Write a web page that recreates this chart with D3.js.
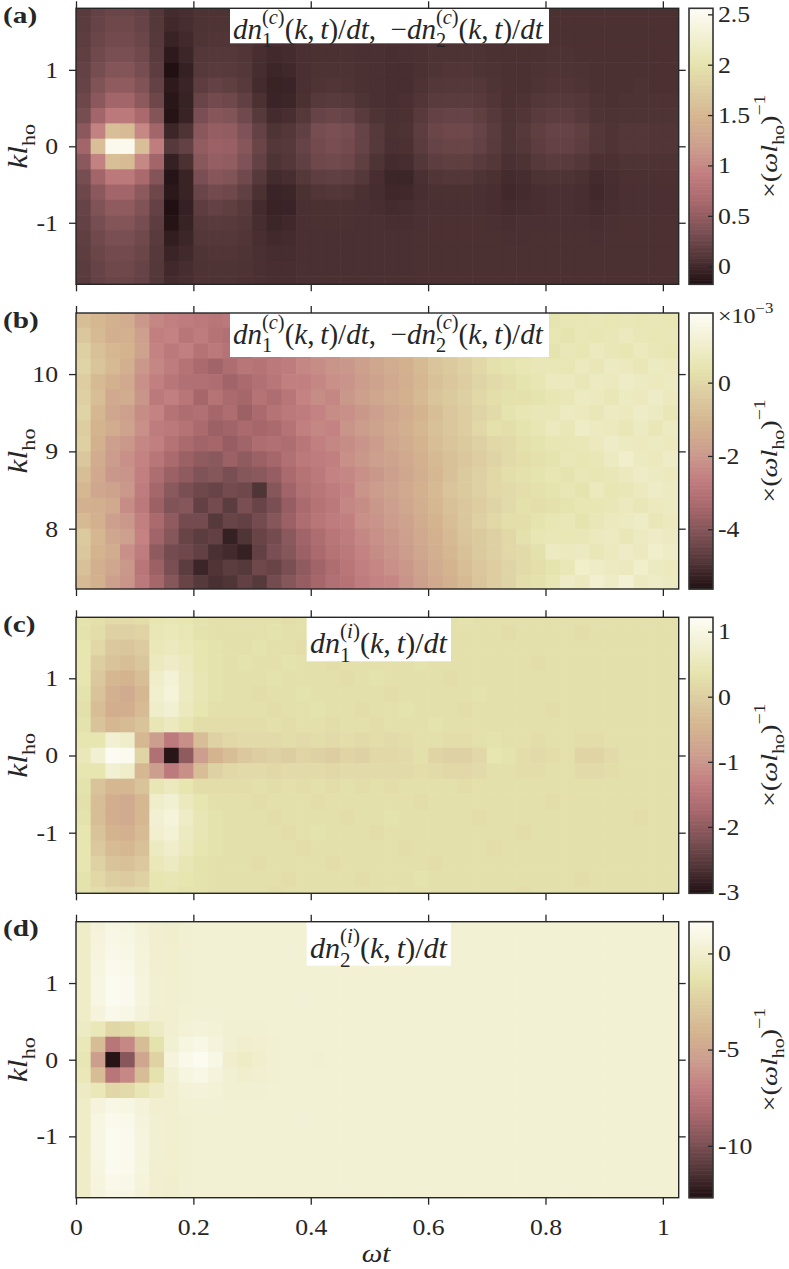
<!DOCTYPE html>
<html>
<head>
<meta charset="utf-8">
<script src="https://cdn.jsdelivr.net/npm/d3@7/dist/d3.min.js"></script>
<style>
  body { margin: 0; background: #fff; }
  text { font-family: "Liberation Serif", serif; fill: #262626; }
</style>
</head>
<body>
<div id="chart"></div>
<script>
"use strict";

// ---- data ----
// time axis: cells of width tStep starting at omega t = 0
var tStep = 0.025;
// k rows (cell centres), top to bottom
var kRowsSym = [1.8, 1.6, 1.4, 1.2, 1.0, 0.8, 0.6, 0.4, 0.2, 0, -0.2, -0.4, -0.6, -0.8, -1.0, -1.2, -1.4, -1.6, -1.8];
var kRowsB = [10.7, 10.5, 10.3, 10.1, 9.9, 9.7, 9.5, 9.3, 9.1, 8.9, 8.7, 8.5, 8.3, 8.1, 7.9, 7.7, 7.5, 7.3];
var kStep = 0.2;

// (a) dn1(c)/dt, one array per time column, values top to bottom
var gridA = [
  [0.14,0.15,0.16,0.18,0.2,0.22,0.26,0.32,0.45,0.6,0.45,0.32,0.26,0.22,0.2,0.18,0.16,0.15,0.14],
  [0.2,0.22,0.25,0.28,0.32,0.38,0.45,0.6,0.95,1.6,0.95,0.6,0.45,0.38,0.32,0.28,0.25,0.22,0.2],
  [0.24,0.27,0.3,0.34,0.4,0.48,0.6,0.85,1.6,2.5,1.6,0.85,0.6,0.48,0.4,0.34,0.3,0.27,0.24],
  [0.24,0.27,0.3,0.34,0.4,0.48,0.6,0.85,1.55,2.5,1.55,0.85,0.6,0.48,0.4,0.34,0.3,0.27,0.24],
  [0.2,0.22,0.25,0.28,0.32,0.38,0.46,0.65,1.0,1.6,1.0,0.65,0.46,0.38,0.32,0.28,0.25,0.22,0.2],
  [0.1,0.11,0.12,0.14,0.16,0.2,0.26,0.4,0.6,0.9,0.6,0.4,0.26,0.2,0.16,0.14,0.12,0.11,0.1],
  [0.02,0.0,-0.04,-0.1,-0.17,-0.1,-0.13,-0.15,-0.02,0.12,-0.06,-0.14,-0.12,-0.17,-0.15,-0.08,-0.03,0.0,0.02],
  [0.04,0.03,0.01,-0.02,-0.06,-0.03,-0.05,-0.04,0.08,0.2,0.06,-0.04,-0.04,-0.06,-0.05,-0.02,0.01,0.03,0.04],
  [0.07,0.07,0.08,0.1,0.12,0.16,0.24,0.34,0.44,0.5,0.44,0.34,0.24,0.16,0.12,0.1,0.08,0.07,0.07],
  [0.07,0.08,0.09,0.11,0.14,0.2,0.3,0.42,0.52,0.56,0.52,0.42,0.3,0.2,0.14,0.11,0.09,0.08,0.07],
  [0.07,0.08,0.09,0.11,0.13,0.18,0.27,0.39,0.5,0.54,0.5,0.39,0.27,0.18,0.13,0.11,0.09,0.08,0.07],
  [0.06,0.07,0.08,0.09,0.1,0.13,0.19,0.28,0.37,0.42,0.37,0.28,0.19,0.13,0.1,0.09,0.08,0.07,0.06],
  [0.05,0.05,0.05,0.04,0.03,0.02,0.06,0.12,0.2,0.24,0.2,0.12,0.06,0.02,0.03,0.04,0.05,0.05,0.05],
  [0.04,0.04,0.03,0.01,-0.02,-0.04,-0.03,0.02,0.08,0.1,0.08,0.02,-0.03,-0.04,-0.02,0.01,0.03,0.04,0.04],
  [0.04,0.04,0.03,0.02,0.0,-0.03,-0.02,0.04,0.1,0.12,0.1,0.04,-0.02,-0.03,0.0,0.02,0.03,0.04,0.04],
  [0.05,0.05,0.05,0.05,0.05,0.05,0.06,0.11,0.19,0.22,0.19,0.11,0.06,0.05,0.05,0.05,0.05,0.05,0.05],
  [0.05,0.05,0.06,0.06,0.07,0.08,0.12,0.22,0.32,0.3,0.27,0.17,0.09,0.06,0.06,0.05,0.05,0.05,0.05],
  [0.05,0.05,0.06,0.06,0.07,0.09,0.14,0.25,0.35,0.33,0.29,0.19,0.1,0.06,0.06,0.05,0.05,0.05,0.05],
  [0.05,0.05,0.06,0.06,0.07,0.08,0.12,0.22,0.32,0.3,0.26,0.17,0.09,0.06,0.06,0.05,0.05,0.05,0.05],
  [0.05,0.05,0.05,0.05,0.06,0.06,0.08,0.14,0.22,0.22,0.18,0.11,0.06,0.05,0.05,0.05,0.05,0.05,0.05],
  [0.05,0.05,0.05,0.05,0.05,0.05,0.05,0.08,0.12,0.12,0.08,0.04,0.03,0.04,0.05,0.05,0.05,0.05,0.05],
  [0.05,0.05,0.05,0.04,0.04,0.04,0.04,0.05,0.06,0.05,0.02,-0.02,-0.01,0.02,0.04,0.05,0.05,0.05,0.05],
  [0.05,0.05,0.05,0.05,0.04,0.04,0.05,0.06,0.07,0.06,0.03,-0.02,0.0,0.03,0.04,0.05,0.05,0.05,0.05],
  [0.06,0.06,0.06,0.06,0.06,0.07,0.09,0.13,0.16,0.15,0.1,0.05,0.04,0.05,0.05,0.06,0.06,0.06,0.06],
  [0.06,0.06,0.07,0.07,0.08,0.1,0.14,0.2,0.25,0.22,0.16,0.09,0.06,0.05,0.06,0.06,0.06,0.06,0.06],
  [0.06,0.06,0.07,0.07,0.09,0.11,0.15,0.22,0.27,0.24,0.18,0.1,0.06,0.05,0.06,0.06,0.06,0.06,0.06],
  [0.06,0.06,0.07,0.07,0.09,0.11,0.15,0.22,0.27,0.24,0.18,0.1,0.06,0.05,0.06,0.06,0.06,0.06,0.06],
  [0.06,0.06,0.06,0.07,0.08,0.1,0.13,0.18,0.22,0.2,0.14,0.08,0.05,0.05,0.06,0.06,0.06,0.06,0.06],
  [0.06,0.06,0.06,0.06,0.07,0.08,0.09,0.12,0.15,0.14,0.1,0.06,0.04,0.04,0.05,0.06,0.06,0.06,0.06],
  [0.06,0.06,0.06,0.06,0.06,0.06,0.06,0.07,0.08,0.08,0.05,0.02,0.0,0.02,0.04,0.05,0.06,0.06,0.06],
  [0.06,0.06,0.06,0.06,0.06,0.06,0.07,0.09,0.12,0.1,0.07,0.03,0.02,0.03,0.05,0.05,0.06,0.06,0.06],
  [0.06,0.06,0.06,0.06,0.07,0.08,0.1,0.14,0.18,0.16,0.12,0.07,0.04,0.04,0.05,0.06,0.06,0.06,0.06],
  [0.06,0.06,0.06,0.07,0.08,0.09,0.12,0.16,0.22,0.2,0.15,0.08,0.05,0.05,0.05,0.06,0.06,0.06,0.06],
  [0.06,0.06,0.06,0.07,0.08,0.09,0.12,0.16,0.22,0.2,0.14,0.08,0.05,0.05,0.05,0.06,0.06,0.06,0.06],
  [0.06,0.06,0.06,0.06,0.07,0.08,0.1,0.12,0.18,0.16,0.1,0.06,0.04,0.04,0.05,0.06,0.06,0.06,0.06],
  [0.06,0.06,0.06,0.06,0.06,0.06,0.07,0.08,0.1,0.1,0.06,0.02,0.0,0.02,0.04,0.05,0.06,0.06,0.06],
  [0.06,0.06,0.06,0.06,0.06,0.06,0.06,0.07,0.08,0.08,0.06,0.04,0.03,0.04,0.05,0.06,0.06,0.06,0.06],
  [0.06,0.06,0.06,0.06,0.06,0.06,0.07,0.08,0.1,0.1,0.08,0.06,0.05,0.05,0.06,0.06,0.06,0.06,0.06],
  [0.06,0.06,0.06,0.06,0.06,0.07,0.07,0.08,0.1,0.1,0.08,0.06,0.05,0.05,0.06,0.06,0.06,0.06,0.06],
  [0.06,0.06,0.06,0.06,0.06,0.06,0.07,0.08,0.09,0.09,0.07,0.06,0.05,0.05,0.06,0.06,0.06,0.06,0.06],
  [0.06,0.06,0.06,0.06,0.06,0.06,0.07,0.08,0.09,0.09,0.07,0.06,0.05,0.05,0.06,0.06,0.06,0.06,0.06]
];

// (b) same quantity at large k, in units of 1e-3
var gridB = [
  [-0.8,-0.5,-0.2,-0.1,-0.3,-0.2,-0.1,-0.3,-0.2,-0.5,-0.8,-1.0,-1.2,-0.9,-0.4,-0.5,-0.7,-0.9],
  [-1.0,-0.9,-0.7,-0.6,-0.9,-0.8,-1.0,-1.1,-1.2,-1.4,-1.5,-1.6,-1.3,-1.2,-1.0,-1.1,-1.3,-1.2],
  [-1.2,-1.3,-1.0,-0.9,-1.2,-1.5,-1.6,-1.4,-1.8,-1.9,-2.0,-1.7,-1.5,-1.8,-1.6,-1.4,-1.6,-1.8],
  [-1.4,-1.2,-1.1,-1.3,-1.5,-1.4,-1.8,-1.7,-2.0,-2.2,-2.1,-2.0,-2.3,-2.0,-1.8,-2.2,-2.0,-2.1],
  [-2.0,-1.8,-1.7,-2.0,-2.2,-2.1,-2.3,-2.2,-2.4,-2.5,-2.6,-2.7,-2.8,-2.6,-2.5,-2.7,-2.9,-2.8],
  [-2.4,-2.6,-2.5,-2.4,-2.6,-2.8,-2.5,-2.7,-2.6,-2.9,-3.2,-3.4,-3.6,-3.3,-3.5,-3.8,-3.6,-3.4],
  [-2.6,-2.5,-2.8,-2.7,-2.9,-2.6,-3.0,-2.8,-3.0,-3.3,-3.6,-3.9,-4.1,-3.8,-4.0,-4.3,-4.2,-4.0],
  [-2.7,-2.9,-2.6,-3.0,-3.1,-2.9,-3.2,-3.0,-3.3,-3.6,-3.8,-4.2,-4.0,-4.3,-4.5,-4.4,-4.7,-4.5],
  [-2.8,-2.7,-3.0,-3.3,-3.1,-3.4,-3.1,-3.3,-3.5,-3.8,-4.1,-4.4,-4.6,-4.3,-4.7,-4.6,-5.2,-4.8],
  [-2.9,-3.0,-2.8,-3.5,-3.2,-3.0,-3.4,-3.6,-3.4,-3.9,-4.0,-4.5,-4.3,-4.8,-4.6,-5.0,-4.9,-5.0],
  [-2.8,-3.1,-3.0,-3.2,-3.5,-3.3,-3.2,-3.5,-3.7,-3.6,-4.2,-4.3,-4.7,-4.5,-5.3,-5.1,-4.7,-4.9],
  [-2.7,-2.9,-3.1,-2.9,-3.3,-3.4,-3.6,-3.3,-3.5,-3.8,-4.0,-4.4,-4.2,-4.6,-4.9,-5.3,-4.8,-4.6],
  [-2.6,-2.8,-2.7,-3.0,-3.1,-3.0,-3.3,-3.4,-3.2,-3.6,-3.9,-4.9,-4.5,-4.3,-4.5,-4.6,-4.4,-4.8],
  [-2.5,-2.6,-2.9,-2.8,-2.9,-3.2,-3.0,-3.3,-3.1,-3.4,-3.7,-4.0,-4.2,-4.0,-4.3,-4.2,-4.5,-4.3],
  [-2.3,-2.5,-2.6,-2.7,-2.6,-2.9,-2.8,-3.0,-3.2,-3.1,-3.3,-3.5,-3.7,-3.6,-3.9,-4.0,-4.2,-4.0],
  [-2.2,-2.3,-2.5,-2.4,-2.6,-2.5,-2.7,-2.6,-2.9,-2.8,-3.0,-3.1,-3.3,-3.2,-3.5,-3.6,-3.8,-3.7],
  [-2.0,-2.2,-2.1,-2.3,-2.4,-2.3,-2.5,-2.4,-2.6,-2.7,-2.8,-2.9,-3.0,-2.9,-3.2,-3.3,-3.5,-3.4],
  [-1.9,-2.0,-2.2,-2.1,-2.2,-2.4,-2.3,-2.5,-2.4,-2.6,-2.5,-2.7,-2.8,-2.7,-2.9,-3.0,-3.2,-3.1],
  [-1.7,-1.9,-1.8,-2.0,-2.1,-2.0,-2.2,-2.1,-2.3,-2.2,-2.4,-2.5,-2.4,-2.6,-2.7,-2.8,-2.9,-3.0],
  [-1.5,-1.6,-1.7,-1.8,-1.9,-1.8,-2.0,-1.9,-2.1,-2.0,-2.2,-2.1,-2.3,-2.2,-2.4,-2.5,-2.6,-2.7],
  [-1.3,-1.4,-1.5,-1.6,-1.7,-1.6,-1.8,-1.7,-1.9,-1.8,-2.0,-1.9,-2.0,-2.1,-2.2,-2.3,-2.4,-2.5],
  [-1.0,-1.2,-1.3,-1.4,-1.5,-1.4,-1.6,-1.5,-1.6,-1.7,-1.8,-1.7,-1.8,-1.9,-2.0,-2.1,-2.2,-2.4],
  [-0.8,-1.0,-1.1,-1.2,-1.3,-1.2,-1.4,-1.3,-1.4,-1.5,-1.6,-1.5,-1.6,-1.7,-1.8,-1.9,-2.0,-2.1],
  [-0.5,-0.7,-0.8,-0.9,-1.0,-0.9,-1.1,-1.0,-1.1,-1.2,-1.3,-1.2,-1.3,-1.4,-1.5,-1.6,-1.7,-1.8],
  [-0.3,-0.4,-0.5,-0.6,-0.7,-0.6,-0.8,-0.7,-0.8,-0.9,-1.0,-0.9,-1.0,-1.1,-1.2,-1.3,-1.4,-1.5],
  [-0.1,-0.2,-0.3,-0.4,-0.5,-0.4,-0.5,-0.5,-0.6,-0.7,-0.7,-0.6,-0.7,-0.8,-0.9,-1.0,-1.1,-1.2],
  [0.0,-0.1,-0.1,-0.2,-0.3,-0.2,-0.3,-0.3,-0.4,-0.5,-0.4,-0.4,-0.5,-0.5,-0.6,-0.7,-0.8,-0.9],
  [0.1,0.0,0.1,0.0,-0.1,0.0,-0.1,0.0,-0.2,-0.3,-0.2,-0.2,-0.3,-0.2,-0.4,-0.4,-0.5,-0.6],
  [0.2,0.1,0.2,0.3,0.1,0.2,0.1,0.3,0.0,-0.1,0.0,0.0,-0.1,0.0,-0.2,-0.2,-0.3,-0.3],
  [0.3,0.2,0.3,0.4,0.2,0.3,0.4,0.2,0.1,0.1,0.2,0.1,0.1,0.2,0.0,0.0,-0.1,-0.1],
  [0.3,0.4,0.3,0.5,0.4,0.3,0.5,0.4,0.3,0.2,0.3,0.2,0.3,0.2,0.3,0.1,0.1,0.2],
  [0.4,0.3,0.5,0.6,0.5,0.4,0.6,0.5,0.4,0.3,0.4,0.3,0.2,0.4,0.5,0.3,0.2,0.3],
  [0.4,0.5,0.4,0.6,0.7,0.5,0.6,0.7,0.5,0.4,0.5,0.4,0.3,0.5,0.6,0.8,0.4,0.5],
  [0.5,0.4,0.6,0.5,0.7,0.6,0.8,0.6,0.5,0.6,0.4,0.5,0.4,0.6,0.5,0.7,0.6,0.9],
  [0.5,0.6,0.5,0.7,0.6,0.8,0.7,0.9,0.6,0.5,0.6,0.4,0.5,0.4,0.6,0.8,1.0,0.7],
  [0.6,0.5,0.7,0.6,0.8,0.7,0.6,0.8,0.7,0.6,0.5,0.7,0.5,0.6,0.7,0.6,0.9,1.1],
  [0.5,0.6,0.6,0.8,0.7,0.6,0.8,0.7,0.9,0.8,0.6,0.5,0.6,0.7,0.8,0.7,0.8,0.9],
  [0.6,0.7,0.5,0.7,0.9,0.8,0.7,0.6,0.8,1.0,0.7,0.6,0.7,0.8,0.6,0.9,0.7,1.2],
  [0.5,0.6,0.7,0.6,0.8,0.7,0.9,0.8,0.7,0.8,0.9,0.7,0.6,0.9,0.8,0.7,1.0,0.8],
  [0.6,0.5,0.6,0.8,0.7,0.9,0.8,0.6,0.8,0.7,0.8,0.9,0.7,0.6,0.9,1.0,0.8,0.9],
  [0.5,0.6,0.5,0.7,0.8,0.7,0.6,0.8,0.7,0.9,0.7,0.8,0.8,0.7,0.8,0.9,0.7,0.8]
];

// (c) dn1(i)/dt
var gridC = [
  [0.35,0.35,0.4,0.4,0.4,0.35,0.3,0.35,0.4,0.5,0.4,0.35,0.3,0.35,0.4,0.4,0.4,0.35,0.35],
  [0.3,0.25,0.15,0.0,-0.1,-0.2,-0.3,-0.2,0.4,0.8,0.4,-0.2,-0.3,-0.3,-0.2,-0.1,0.05,0.15,0.25],
  [0.2,0.05,-0.1,-0.2,-0.4,-0.55,-0.6,-0.4,0.8,1.2,0.8,-0.4,-0.6,-0.6,-0.5,-0.35,-0.2,0.0,0.15],
  [0.2,0.05,-0.15,-0.3,-0.5,-0.65,-0.6,-0.35,0.7,1.15,0.7,-0.4,-0.65,-0.65,-0.55,-0.4,-0.25,-0.05,0.15],
  [0.25,0.1,-0.05,-0.15,-0.3,-0.4,-0.35,-0.2,-0.4,0.1,-0.4,-0.2,-0.4,-0.4,-0.35,-0.25,-0.1,0.05,0.2],
  [0.4,0.45,0.5,0.55,0.7,0.75,0.7,0.45,-0.9,-1.6,-0.9,0.45,0.7,0.8,0.75,0.6,0.5,0.4,0.4],
  [0.45,0.5,0.55,0.65,0.85,0.9,0.8,0.55,-1.4,-2.95,-1.4,0.55,0.8,0.9,0.85,0.7,0.6,0.45,0.4],
  [0.4,0.45,0.5,0.55,0.6,0.6,0.55,0.4,-1.1,-2.0,-1.1,0.4,0.55,0.65,0.6,0.55,0.45,0.4,0.35],
  [0.35,0.35,0.4,0.4,0.45,0.45,0.4,0.25,-0.3,-0.9,-0.3,0.25,0.4,0.45,0.45,0.4,0.35,0.35,0.35],
  [0.3,0.3,0.35,0.35,0.35,0.35,0.3,0.25,0.05,-0.5,0.05,0.25,0.3,0.35,0.35,0.35,0.3,0.3,0.3],
  [0.3,0.3,0.3,0.3,0.3,0.3,0.3,0.25,0.15,-0.3,0.15,0.25,0.3,0.3,0.3,0.3,0.3,0.3,0.3],
  [0.3,0.3,0.3,0.35,0.3,0.3,0.3,0.25,0.2,-0.1,0.2,0.25,0.3,0.3,0.3,0.3,0.3,0.3,0.3],
  [0.3,0.3,0.35,0.3,0.3,0.25,0.3,0.25,0.2,0.0,0.2,0.3,0.25,0.3,0.3,0.3,0.25,0.3,0.3],
  [0.3,0.35,0.3,0.3,0.35,0.3,0.25,0.3,0.2,0.05,0.15,0.25,0.3,0.25,0.3,0.3,0.3,0.3,0.25],
  [0.25,0.3,0.3,0.35,0.3,0.3,0.3,0.25,0.25,0.0,0.2,0.3,0.3,0.3,0.25,0.3,0.3,0.25,0.3],
  [0.3,0.3,0.25,0.3,0.3,0.35,0.3,0.3,0.2,0.1,0.2,0.25,0.3,0.3,0.3,0.25,0.3,0.3,0.3],
  [0.3,0.25,0.3,0.3,0.3,0.3,0.35,0.3,0.25,0.05,0.2,0.3,0.25,0.3,0.35,0.3,0.3,0.3,0.3],
  [0.3,0.3,0.3,0.25,0.3,0.3,0.3,0.25,0.2,0.0,0.15,0.25,0.3,0.3,0.3,0.3,0.25,0.3,0.3],
  [0.35,0.3,0.3,0.3,0.25,0.3,0.3,0.3,0.25,0.1,0.2,0.3,0.3,0.25,0.3,0.3,0.3,0.3,0.3],
  [0.3,0.3,0.35,0.3,0.3,0.3,0.25,0.3,0.2,0.05,0.2,0.25,0.3,0.3,0.3,0.3,0.3,0.25,0.3],
  [0.3,0.3,0.3,0.3,0.35,0.3,0.3,0.25,0.25,0.15,0.2,0.3,0.3,0.3,0.25,0.3,0.3,0.3,0.3],
  [0.3,0.35,0.3,0.3,0.3,0.25,0.3,0.3,0.2,0.15,0.2,0.25,0.3,0.35,0.3,0.3,0.3,0.3,0.35],
  [0.25,0.3,0.3,0.3,0.3,0.3,0.35,0.3,0.25,0.2,0.2,0.3,0.3,0.3,0.3,0.25,0.3,0.3,0.3],
  [0.3,0.3,0.3,0.35,0.3,0.3,0.3,0.3,0.3,0.3,0.25,0.3,0.25,0.3,0.3,0.3,0.3,0.35,0.3],
  [0.3,0.3,0.25,0.3,0.3,0.3,0.3,0.35,0.3,0.1,0.2,0.3,0.3,0.3,0.3,0.3,0.25,0.3,0.3],
  [0.3,0.3,0.3,0.3,0.25,0.3,0.3,0.3,0.25,0.05,0.15,0.3,0.3,0.3,0.3,0.3,0.3,0.3,0.3],
  [0.35,0.3,0.3,0.3,0.3,0.3,0.25,0.3,0.25,0.05,0.15,0.25,0.3,0.3,0.3,0.3,0.3,0.3,0.3],
  [0.3,0.3,0.3,0.3,0.3,0.35,0.3,0.3,0.3,0.15,0.2,0.3,0.3,0.25,0.3,0.3,0.3,0.3,0.3],
  [0.3,0.3,0.3,0.3,0.3,0.3,0.3,0.3,0.35,0.4,0.3,0.3,0.3,0.3,0.3,0.25,0.3,0.3,0.3],
  [0.3,0.25,0.3,0.3,0.3,0.3,0.3,0.3,0.3,0.35,0.3,0.3,0.3,0.3,0.3,0.3,0.3,0.3,0.3],
  [0.3,0.3,0.3,0.3,0.3,0.3,0.3,0.3,0.3,0.25,0.25,0.3,0.3,0.3,0.25,0.3,0.3,0.3,0.25],
  [0.3,0.3,0.3,0.25,0.3,0.3,0.3,0.3,0.25,0.2,0.25,0.3,0.3,0.3,0.3,0.3,0.3,0.3,0.3],
  [0.3,0.3,0.3,0.3,0.3,0.3,0.25,0.3,0.3,0.25,0.3,0.3,0.25,0.3,0.3,0.3,0.3,0.3,0.3],
  [0.3,0.3,0.3,0.3,0.3,0.3,0.3,0.3,0.3,0.3,0.3,0.3,0.3,0.3,0.3,0.3,0.3,0.3,0.3],
  [0.3,0.25,0.3,0.3,0.3,0.3,0.3,0.3,0.25,0.1,0.2,0.3,0.3,0.3,0.3,0.3,0.3,0.25,0.3],
  [0.3,0.3,0.3,0.3,0.3,0.3,0.3,0.3,0.25,0.1,0.2,0.3,0.3,0.3,0.3,0.3,0.3,0.3,0.3],
  [0.3,0.3,0.3,0.3,0.3,0.3,0.3,0.3,0.3,0.2,0.25,0.3,0.3,0.3,0.3,0.3,0.3,0.3,0.3],
  [0.3,0.3,0.3,0.3,0.3,0.3,0.3,0.3,0.3,0.3,0.3,0.3,0.3,0.3,0.3,0.3,0.3,0.3,0.3],
  [0.3,0.3,0.3,0.3,0.3,0.3,0.3,0.3,0.3,0.3,0.3,0.3,0.3,0.25,0.3,0.3,0.3,0.3,0.3],
  [0.3,0.3,0.3,0.3,0.3,0.3,0.3,0.3,0.3,0.3,0.3,0.3,0.3,0.3,0.3,0.3,0.3,0.3,0.3],
  [0.3,0.3,0.3,0.3,0.3,0.3,0.3,0.3,0.3,0.3,0.3,0.3,0.3,0.3,0.3,0.3,0.3,0.3,0.3]
];

// (d) dn2(i)/dt
var gridD = [
  [-0.2,-0.2,-0.2,-0.2,-0.2,-0.2,-0.2,-0.4,-0.8,-1.0,-0.8,-0.4,-0.2,-0.2,-0.2,-0.2,-0.2,-0.2,-0.2],
  [0.5,0.6,0.7,0.8,0.9,0.9,0.6,-0.8,-3.5,-5.5,-3.5,-0.8,0.6,0.9,0.9,0.9,0.8,0.7,0.6],
  [0.9,1.0,1.1,1.3,1.5,1.5,1.2,-2.0,-7.5,-12.5,-7.5,-2.0,1.0,1.3,1.5,1.5,1.4,1.2,1.0],
  [0.8,0.9,1.0,1.2,1.35,1.35,1.0,-1.8,-6.5,-9.5,-6.5,-1.8,0.9,1.2,1.35,1.35,1.25,1.1,0.9],
  [0.4,0.5,0.55,0.6,0.7,0.7,0.5,-1.0,-3.5,-5.0,-3.5,-1.0,0.45,0.6,0.7,0.7,0.65,0.55,0.45],
  [0.1,0.1,0.15,0.15,0.2,0.2,0.1,-0.4,-1.3,-2.2,-1.3,-0.4,0.1,0.2,0.2,0.2,0.15,0.1,0.1],
  [0.0,0.0,0.05,0.05,0.1,0.1,0.1,0.1,0.2,0.6,0.2,0.1,0.1,0.1,0.1,0.05,0.05,0.0,0.0],
  [0.2,0.2,0.2,0.2,0.2,0.25,0.3,0.4,0.8,1.2,0.8,0.4,0.3,0.25,0.2,0.2,0.2,0.2,0.2],
  [0.3,0.3,0.3,0.3,0.3,0.3,0.35,0.5,1.0,1.5,1.0,0.5,0.35,0.3,0.3,0.3,0.3,0.3,0.3],
  [0.3,0.3,0.3,0.3,0.3,0.3,0.35,0.4,0.6,1.0,0.6,0.4,0.35,0.3,0.3,0.3,0.3,0.3,0.3],
  [0.3,0.3,0.3,0.3,0.3,0.3,0.3,0.25,0.2,0.0,0.2,0.25,0.3,0.3,0.3,0.3,0.3,0.3,0.3],
  [0.3,0.3,0.3,0.3,0.3,0.3,0.3,0.2,0.0,-0.3,0.0,0.2,0.3,0.3,0.3,0.3,0.3,0.3,0.3],
  [0.3,0.3,0.3,0.3,0.3,0.3,0.3,0.25,0.15,0.0,0.15,0.25,0.3,0.3,0.3,0.3,0.3,0.3,0.3],
  [0.3,0.3,0.3,0.3,0.3,0.3,0.3,0.3,0.25,0.2,0.25,0.3,0.3,0.3,0.3,0.3,0.3,0.3,0.3],
  [0.3,0.3,0.35,0.3,0.3,0.3,0.3,0.3,0.3,0.3,0.3,0.3,0.3,0.3,0.3,0.3,0.3,0.3,0.3],
  [0.3,0.3,0.3,0.3,0.3,0.35,0.3,0.3,0.3,0.3,0.3,0.3,0.3,0.35,0.3,0.3,0.3,0.3,0.3],
  [0.3,0.3,0.3,0.3,0.3,0.3,0.3,0.3,0.3,0.25,0.3,0.3,0.3,0.3,0.3,0.3,0.3,0.3,0.3],
  [0.3,0.3,0.3,0.3,0.3,0.3,0.3,0.3,0.3,0.3,0.3,0.3,0.3,0.3,0.3,0.3,0.3,0.3,0.3],
  [0.3,0.3,0.3,0.3,0.3,0.3,0.3,0.3,0.3,0.3,0.3,0.3,0.3,0.3,0.3,0.3,0.3,0.3,0.3],
  [0.3,0.3,0.3,0.3,0.3,0.3,0.3,0.3,0.3,0.3,0.3,0.3,0.3,0.3,0.3,0.3,0.3,0.3,0.3],
  [0.3,0.3,0.3,0.3,0.3,0.3,0.3,0.3,0.3,0.3,0.3,0.3,0.3,0.3,0.3,0.3,0.3,0.3,0.3],
  [0.3,0.3,0.3,0.3,0.3,0.3,0.3,0.3,0.3,0.3,0.3,0.3,0.3,0.3,0.3,0.3,0.3,0.3,0.3],
  [0.3,0.3,0.3,0.3,0.3,0.3,0.3,0.3,0.3,0.3,0.3,0.3,0.3,0.3,0.3,0.3,0.3,0.3,0.3],
  [0.3,0.3,0.3,0.3,0.3,0.3,0.3,0.3,0.3,0.3,0.3,0.3,0.3,0.3,0.3,0.3,0.3,0.3,0.3],
  [0.3,0.3,0.3,0.3,0.3,0.3,0.3,0.3,0.3,0.3,0.3,0.3,0.3,0.3,0.3,0.3,0.3,0.3,0.3],
  [0.3,0.3,0.3,0.3,0.3,0.3,0.3,0.3,0.3,0.3,0.3,0.3,0.3,0.3,0.3,0.3,0.3,0.3,0.3],
  [0.3,0.3,0.3,0.3,0.3,0.3,0.3,0.3,0.3,0.3,0.3,0.3,0.3,0.3,0.3,0.3,0.3,0.3,0.3],
  [0.3,0.3,0.3,0.3,0.3,0.3,0.3,0.3,0.3,0.3,0.3,0.3,0.3,0.3,0.3,0.3,0.3,0.3,0.3],
  [0.3,0.3,0.3,0.3,0.3,0.3,0.3,0.3,0.3,0.3,0.3,0.3,0.3,0.3,0.3,0.3,0.3,0.3,0.3],
  [0.3,0.3,0.3,0.3,0.3,0.3,0.3,0.3,0.3,0.3,0.3,0.3,0.3,0.3,0.3,0.3,0.3,0.3,0.3],
  [0.3,0.3,0.3,0.3,0.3,0.3,0.3,0.3,0.3,0.3,0.3,0.3,0.3,0.3,0.3,0.3,0.3,0.3,0.3],
  [0.3,0.3,0.3,0.3,0.3,0.3,0.3,0.3,0.3,0.3,0.3,0.3,0.3,0.3,0.3,0.3,0.3,0.3,0.3],
  [0.3,0.3,0.3,0.3,0.3,0.3,0.3,0.3,0.3,0.3,0.3,0.3,0.3,0.3,0.3,0.3,0.3,0.3,0.3],
  [0.3,0.3,0.3,0.3,0.3,0.3,0.3,0.3,0.3,0.3,0.3,0.3,0.3,0.3,0.3,0.3,0.3,0.3,0.3],
  [0.3,0.3,0.3,0.3,0.3,0.3,0.3,0.3,0.3,0.3,0.3,0.3,0.3,0.3,0.3,0.3,0.3,0.3,0.3],
  [0.3,0.3,0.3,0.3,0.3,0.3,0.3,0.3,0.3,0.3,0.3,0.3,0.3,0.3,0.3,0.3,0.3,0.3,0.3],
  [0.3,0.3,0.3,0.3,0.3,0.3,0.3,0.3,0.3,0.3,0.3,0.3,0.3,0.3,0.3,0.3,0.3,0.3,0.3],
  [0.3,0.3,0.3,0.3,0.3,0.3,0.3,0.3,0.3,0.3,0.3,0.3,0.3,0.3,0.3,0.3,0.3,0.3,0.3],
  [0.3,0.3,0.3,0.3,0.3,0.3,0.3,0.3,0.3,0.3,0.3,0.3,0.3,0.3,0.3,0.3,0.3,0.3,0.3],
  [0.3,0.3,0.3,0.3,0.3,0.3,0.3,0.3,0.3,0.3,0.3,0.3,0.3,0.3,0.3,0.3,0.3,0.3,0.3],
  [0.3,0.3,0.3,0.3,0.3,0.3,0.3,0.3,0.3,0.3,0.3,0.3,0.3,0.3,0.3,0.3,0.3,0.3,0.3]
];

// colour bar ranges and ticks
var cbarRanges = [[-0.18, 2.56], [-5.63, 1.9], [-3.02, 1.22], [-12.7, 1.65]];
var cbarTicks = [[0, 0.5, 1, 1.5, 2, 2.5], [-4, -2, 0], [-3, -2, -1, 0, 1], [-10, -5, 0]];
var kDomains = [[-1.805, 1.805], [7.22, 10.79], [-1.785, 1.79], [-1.8, 1.8]];
var kTicks = [[-1, 0, 1], [8, 9, 10], [-1, 0, 1], [-1, 0, 1]];
var tTicks = [0, 0.2, 0.4, 0.6, 0.8, 1];
var panelLetters = ["(a)", "(b)", "(c)", "(d)"];

// colormap stops (bottom to top) sampled from the colour bar
var cmapStops = [0, 0.1, 0.2, 0.3, 0.4, 0.5, 0.6, 0.7, 0.8, 0.9, 1];
var cmapColours = ["#1f0f12", "#523638", "#7e5256", "#a8686c", "#c27e80", "#cc9e8e",
                   "#d4b48f", "#dccba0", "#e6e4ae", "#f2f0d2", "#fdfcf4"];

// ---- layout ----
var width = 789, height = 1269;
var plotLeft = 76, plotRight = 678.7;
var cbLeft = 689, cbRight = 713;
var panelTops = [8.3, 313, 617.3, 921.7];
var panelH = 276;
var tickFont = "23px";
var wide = 1.12;   // the figure's type is set wider than Times

var svg = d3.select("#chart").append("svg")
    .attr("width", width)
    .attr("height", height);

var x = d3.scaleLinear().domain([0, 1.027]).range([plotLeft, plotRight]);

function measure(str, size, italic) {
    var t = svg.append("text").style("font-size", size + "px")
        .style("font-style", italic ? "italic" : "normal").text(str);
    var w = t.node().getComputedTextLength();
    t.remove();
    return w;
}

// widen axis labels without moving their anchor
function stretch(sel, s) {
    sel.each(function() {
        var t = d3.select(this);
        var x0 = +t.attr("x") || 0;
        t.attr("x", x0 / s).attr("transform", "scale(" + s + ",1)");
    });
}

// lay out a small piece of math in one text element: letters italic, the rest upright
function mathText(g, tokens, size) {
    var t = g.append("text");
    var pos = 0, lastStart = 0, lastW = 0, curOff = 0, pendingDx = 0;
    tokens.forEach(function(tk) {
        var fs = (tk.sub || tk.sup) ? size * 0.7 : size;
        var off = tk.sub ? size * 0.28 : (tk.sup ? -size * 0.52 : 0);
        var runs = tk.s.match(/[A-Za-z\u03c9]+|[^A-Za-z\u03c9]+/g);
        var w = 0;
        runs.forEach(function(r, idx) {
            var it = !tk.rm && /[A-Za-z\u03c9]/.test(r);
            var ts = t.append("tspan").text(r)
                .style("font-size", fs + "px")
                .style("font-style", it ? "italic" : "normal");
            if (idx === 0) {
                ts.attr("dy", off - curOff);
                var dx = tk.stack ? -(pos - lastStart) : pendingDx;
                if (dx) ts.attr("dx", dx);
            }
            w += measure(r, fs, it);
        });
        curOff = off;
        if (tk.stack) {
            var end = lastStart + Math.max(lastW, w);
            pendingDx = end - (lastStart + w);
            pos = end;
        } else {
            pendingDx = 0;
            lastStart = pos; lastW = w; pos += w;
        }
    });
    return pos;
}

var titleA = [{s: "dn"}, {s: "1", sub: 1}, {s: "(c)", sup: 1, stack: 1},
              {s: "(k,\u2009t)/dt,\u2002\u2212dn"}, {s: "2", sub: 1}, {s: "(c)", sup: 1, stack: 1},
              {s: "(k,\u2009t)/dt"}];
var titleC = [{s: "dn"}, {s: "1", sub: 1}, {s: "(i)", sup: 1, stack: 1}, {s: "(k,\u2009t)/dt"}];
var titleD = [{s: "dn"}, {s: "2", sub: 1}, {s: "(i)", sup: 1, stack: 1}, {s: "(k,\u2009t)/dt"}];
var titles = [titleA, titleA, titleC, titleD];
var titleBoxes = [
    {x: 230, w: 319, h: 35, tx: 233, tw: 310, base: 31},
    {x: 230, w: 319, h: 44, tx: 233, tw: 310, base: 31},
    {x: 306.7, w: 144.3, h: 44, tx: 310, tw: 137, base: 36},
    {x: 306.7, w: 144.3, h: 44, tx: 310, tw: 137, base: 36.5}
];

var grids = [gridA, gridB, gridC, gridD];

grids.forEach(function(grid, p) {
    var top = panelTops[p];
    var y = d3.scaleLinear().domain(kDomains[p]).range([top + panelH, top]);
    var lo = cbarRanges[p][0], hi = cbarRanges[p][1];
    var colour = d3.scaleLinear()
        .domain(cmapStops.map(function(f) { return lo + f * (hi - lo); }))
        .range(cmapColours)
        .clamp(true);
    var rows = p === 1 ? kRowsB : kRowsSym;

    var cells = [];
    grid.forEach(function(col, i) {
        col.forEach(function(v, j) {
            cells.push({t0: i * tStep, t1: (i + 1) * tStep, k: rows[j], v: v});
        });
    });

    var clipId = "clip" + p;
    svg.append("clipPath").attr("id", clipId)
        .append("rect")
        .attr("x", plotLeft).attr("y", top)
        .attr("width", plotRight - plotLeft).attr("height", panelH);

    var g = svg.append("g");
    g.append("g").attr("clip-path", "url(#" + clipId + ")")
        .selectAll("rect")
        .data(cells)
        .enter().append("rect")
        .attr("x", function(d) { return x(d.t0); })
        .attr("width", function(d) { return x(d.t1) - x(d.t0) + 0.6; })
        .attr("y", function(d) { return y(d.k + kStep / 2); })
        .attr("height", function(d) { return y(d.k - kStep / 2) - y(d.k + kStep / 2) + 0.6; })
        .attr("fill", function(d) { return colour(d.v); });

    // title box
    var tb = titleBoxes[p];
    g.append("rect").attr("x", tb.x).attr("y", top).attr("width", tb.w).attr("height", tb.h)
        .attr("fill", "#fff");
    var tg = g.append("g");
    var tw = mathText(tg, titles[p], 20);
    tg.attr("transform", "translate(" + tb.tx + "," + (top + tb.base) + ") scale(" + (tb.tw / tw) + ")");

    // axes: ticks out on all four sides
    var bottomAxis = d3.axisBottom(x).tickValues(tTicks).tickSize(7).tickPadding(14)
        .tickFormat(p === 3 ? function(d) { return String(d); } : function() { return ""; });
    g.append("g").attr("transform", "translate(0," + (top + panelH) + ")").call(bottomAxis);
    g.append("g").attr("transform", "translate(0," + top + ")")
        .call(d3.axisTop(x).tickValues(tTicks).tickSize(7).tickFormat(""));
    g.append("g").attr("transform", "translate(" + plotLeft + ",0)")
        .call(d3.axisLeft(y).tickValues(kTicks[p]).tickSize(7).tickPadding(11)
            .tickFormat(function(d) { return String(d); }));
    g.append("g").attr("transform", "translate(" + plotRight + ",0)")
        .call(d3.axisRight(y).tickValues(kTicks[p]).tickSize(7).tickFormat(""));

    g.selectAll(".domain").remove();
    g.selectAll(".tick line").attr("stroke", "#262626").attr("stroke-width", 1.3);
    var tt = g.selectAll(".tick text").style("font-size", tickFont).attr("fill", "#262626")
        .style("font-family", "'Liberation Serif', serif");
    stretch(tt, wide);

    g.append("rect").attr("x", plotLeft).attr("y", top)
        .attr("width", plotRight - plotLeft).attr("height", panelH)
        .attr("fill", "none").attr("stroke", "#262626").attr("stroke-width", 1.4);

    // y label
    var yl = g.append("g");
    var yw = mathText(yl, [{s: "kl"}, {s: "ho", sub: 1, rm: 1}], 27) * 1.17;
    yl.attr("transform", "translate(27," + (top + panelH / 2 + yw / 2) + ") rotate(-90) scale(1.17,1)");

    // panel letter
    g.append("g").attr("transform", "translate(3," + (top + 14.5) + ") scale(1.22,1)")
        .append("text")
        .style("font-size", "24px").style("font-weight", "bold").text(panelLetters[p]);

    // colour bar
    var cy = d3.scaleLinear().domain([lo, hi]).range([top + panelH, top]);
    var steps = d3.range(0, 200);
    g.append("g").selectAll("rect")
        .data(steps)
        .enter().append("rect")
        .attr("x", cbLeft)
        .attr("width", cbRight - cbLeft)
        .attr("y", function(s) { return top + panelH * (1 - (s + 1) / 200); })
        .attr("height", panelH / 200 + 0.6)
        .attr("fill", function(s) { return colour(lo + (s + 0.5) / 200 * (hi - lo)); });
    var cbAxis = d3.axisRight(cy).tickValues(cbarTicks[p]).tickSize(-5).tickPadding(5)
        .tickFormat(function(d) { return String(d); });
    var cg = g.append("g").attr("transform", "translate(" + cbRight + ",0)").call(cbAxis);
    cg.select(".domain").remove();
    cg.selectAll(".tick line").attr("stroke", "#262626").attr("stroke-width", 1.3);
    var ct = cg.selectAll(".tick text").style("font-size", tickFont).attr("fill", "#262626")
        .style("font-family", "'Liberation Serif', serif");
    stretch(ct, wide);
    g.append("rect").attr("x", cbLeft).attr("y", top)
        .attr("width", cbRight - cbLeft).attr("height", panelH)
        .attr("fill", "none").attr("stroke", "#333").attr("stroke-width", 1.6);

    // colour bar label
    var cl = g.append("g");
    var cw = mathText(cl, [{s: "\u00d7(\u03c9l"}, {s: "ho", sub: 1, rm: 1}, {s: ")"}, {s: "\u22121", sup: 1}], 24) * 1.18;
    cl.attr("transform", "translate(777," + (top + panelH / 2 + cw / 2) + ") rotate(-90) scale(1.18,1)");

    if (p === 1) {
        var eg = g.append("g");
        mathText(eg, [{s: "\u00d710"}, {s: "\u22123", sup: 1}], 20);
        eg.attr("transform", "translate(718," + (top + 10) + ") scale(1.2,1)");
    }
});

// x label
var xl = svg.append("g");
var xw = mathText(xl, [{s: "\u03c9t"}], 26) * 1.12;
xl.attr("transform", "translate(" + (376 - xw / 2) + ",1262) scale(1.12,1)");
</script>
</body>
</html>
